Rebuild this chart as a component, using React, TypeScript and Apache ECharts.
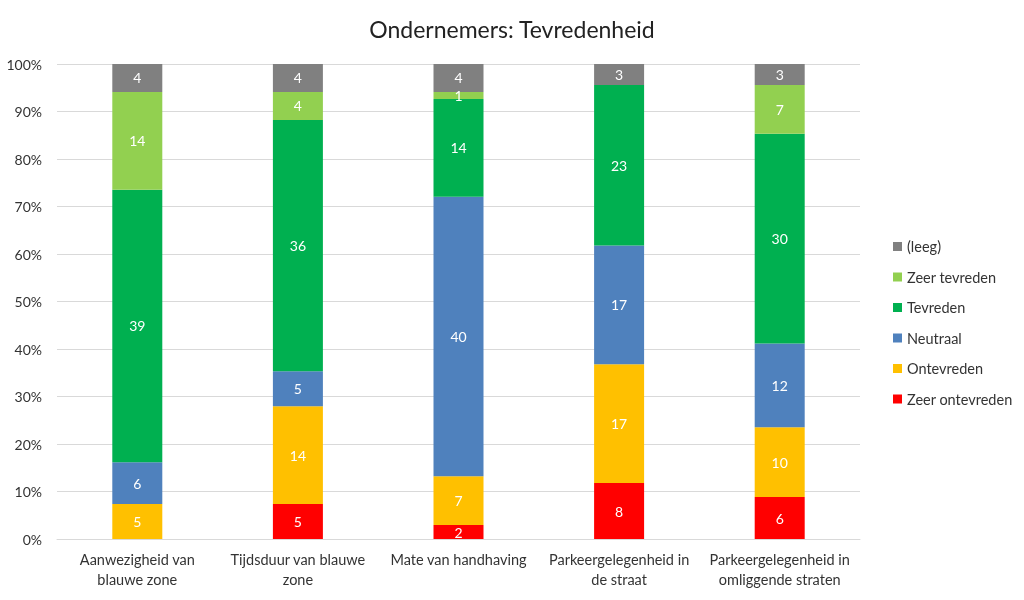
import React, { useEffect, useRef } from "react";
import * as echarts from "echarts";

const categories = [
  "Aanwezigheid van\nblauwe zone",
  "Tijdsduur van blauwe\nzone",
  "Mate van handhaving",
  "Parkeergelegenheid in\nde straat",
  "Parkeergelegenheid in\nomliggende straten",
];
const seriesNames = ["Zeer ontevreden", "Ontevreden", "Neutraal", "Tevreden", "Zeer tevreden", "(leeg)"];
const zeerOntevreden = [0, 5, 2, 8, 6];
const ontevreden = [5, 14, 7, 17, 10];
const neutraal = [6, 5, 40, 17, 12];
const tevreden = [39, 36, 14, 23, 30];
const zeerTevreden = [14, 4, 1, 0, 7];
const leeg = [4, 4, 4, 3, 3];
const colors = ["#FF0000", "#FFC000", "#4F81BD", "#00B050", "#92D050", "#808080"];

const FONT = "Lato, 'Open Sans', sans-serif";

export default function App() {
  const ref = useRef<HTMLDivElement>(null);
  useEffect(() => {
    if (!ref.current) return;
    const chart = echarts.init(ref.current, undefined, { renderer: "svg" });
    const all = [zeerOntevreden, ontevreden, neutraal, tevreden, zeerTevreden, leeg];
    const totals = categories.map((_, i) => all.reduce((s, arr) => s + arr[i], 0));
    chart.setOption({
      animation: false,
      textStyle: { fontFamily: FONT },
      title: {
        text: "Ondernemers: Tevredenheid",
        left: "center",
        top: 12,
        textStyle: { fontFamily: FONT, fontSize: 23, fontWeight: "normal", color: "#222" },
      },
      legend: {
        orient: "vertical",
        left: 888,
        top: 234,
        itemWidth: 9,
        itemHeight: 9,
        itemGap: 15.5,
        icon: "rect",
        data: [...seriesNames].reverse(),
        textStyle: { fontFamily: FONT, fontSize: 14.5, color: "#333" },
      },
      grid: { left: 57, right: 164, top: 64, bottom: 61 },
      xAxis: {
        type: "category",
        data: categories,
        axisLine: { show: true, lineStyle: { color: "#d9d9d9" } },
        axisTick: { show: false },
        axisLabel: { fontFamily: FONT, fontSize: 14.5, color: "#333", margin: 10, lineHeight: 20, interval: 0 },
      },
      yAxis: {
        type: "value",
        min: 0,
        max: 100,
        interval: 10,
        axisLabel: { formatter: "{value}%", fontFamily: FONT, fontSize: 14, color: "#333", margin: 15 },
        splitLine: { lineStyle: { color: "#d9d9d9" } },
        axisLine: { show: false },
        axisTick: { show: false },
      },
      series: all.map((arr, si) => ({
        name: seriesNames[si],
        type: "bar",
        stack: "total",
        barWidth: 50,
        itemStyle: { color: colors[si] },
        label: {
          show: true,
          position: "inside",
          color: "#fff",
          fontFamily: FONT,
          fontSize: 14,
          formatter: (p: any) => (arr[p.dataIndex] ? String(arr[p.dataIndex]) : ""),
        },
        data: arr.map((v, i) => (v / totals[i]) * 100),
      })),
    });
    return () => chart.dispose();
  }, []);
  return <div ref={ref} style={{ position: "fixed", left: 0, top: 0, width: 1024, height: 600 }} />;
}
